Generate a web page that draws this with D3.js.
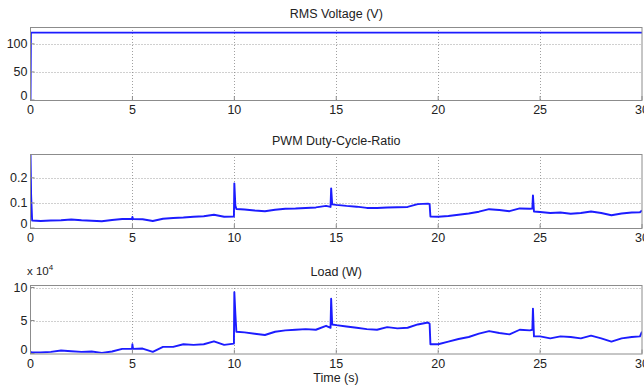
<!DOCTYPE html>
<html>
<head>
<meta charset="utf-8">
<script src="https://cdn.jsdelivr.net/npm/d3@7"></script>
<style>
    body { margin: 0; background: #fff; }
    svg { display: block; font-family: "Liberation Sans", Arial, sans-serif; }
</style>
</head>
<body>
<div id="chart"></div>
<script>
// Time samples shared by duty-cycle and load traces (s)
const time = [0, 0.03, 0.08, 0.5, 1, 1.5, 2, 2.5, 3, 3.5, 4, 4.5, 4.98, 5, 5.03, 5.5, 6, 6.5, 7, 7.5,
    8, 8.5, 9, 9.5, 9.98, 10, 10.05, 10.1, 10.5, 11, 11.5, 12, 12.5, 13, 13.5, 14, 14.5, 14.72, 14.75, 14.8,
    15, 15.5, 16, 16.5, 17, 17.5, 18, 18.5, 19, 19.5, 19.58, 19.62, 20, 20.5, 21, 21.5, 22, 22.5, 23, 23.5,
    24, 24.5, 24.62, 24.65, 24.7, 25, 25.5, 26, 26.5, 27, 27.5, 28, 28.5, 29, 29.5, 29.9, 30];

const dutyRatio = [0.30, 0.13, 0.03, 0.028, 0.03, 0.031, 0.034, 0.031, 0.029, 0.027, 0.032, 0.036, 0.036, 0.044, 0.036, 0.035, 0.028, 0.037, 0.04, 0.042,
    0.045, 0.047, 0.053, 0.045, 0.046, 0.178, 0.09, 0.076, 0.074, 0.07, 0.067, 0.073, 0.077, 0.078, 0.08, 0.082, 0.088, 0.084, 0.158, 0.094,
    0.092, 0.088, 0.085, 0.08, 0.08, 0.082, 0.083, 0.084, 0.095, 0.097, 0.095, 0.046, 0.045, 0.048, 0.053, 0.058, 0.065, 0.075, 0.072, 0.067,
    0.078, 0.077, 0.078, 0.13, 0.066, 0.064, 0.06, 0.062, 0.057, 0.06, 0.066, 0.06, 0.051, 0.058, 0.062, 0.063, 0.07];

// Load in units of 10^4 W
const loadE4 = [0.2, 0.2, 0.15, 0.15, 0.25, 0.45, 0.35, 0.25, 0.3, 0.1, 0.3, 0.7, 0.7, 1.4, 0.7, 0.75, 0.25, 1.0, 1.0, 1.4,
    1.3, 1.4, 1.85, 1.3, 1.5, 9.3, 6.0, 3.3, 3.2, 3.0, 2.8, 3.3, 3.5, 3.6, 3.7, 3.6, 4.2, 3.9, 8.3, 4.4,
    4.3, 4.1, 3.9, 3.7, 3.6, 4.0, 3.8, 3.9, 4.4, 4.7, 4.5, 1.4, 1.4, 1.8, 2.2, 2.5, 3.0, 3.4, 3.1, 2.9,
    3.6, 3.5, 3.6, 6.8, 2.6, 2.6, 2.3, 2.6, 2.5, 2.3, 2.7, 2.3, 1.8, 2.3, 2.5, 2.6, 3.3];

// RMS voltage trace
const voltTime = [0, 0.02, 30];
const voltage = [0, 120, 120];

const xTicks = [0, 5, 10, 15, 20, 25, 30];
const voltTicks = [0, 50, 100];
const dutyTicks = [0, 0.1, 0.2];
const loadTicks = [0, 5, 10];

const width = 644, height = 385;
const svg = d3.select("#chart").append("svg")
    .attr("width", width)
    .attr("height", height);

const x = d3.scaleLinear().domain([0, 30]).range([30.5, 642]);

// panel definitions: y range in pixels
const panels = [
    { title: "RMS Voltage (V)", t: voltTime, v: voltage, ticks: voltTicks, domain: [0, 130], range: [100, 27] },
    { title: "PWM Duty-Cycle-Ratio", t: time, v: dutyRatio, ticks: dutyTicks, domain: [0, 0.295], range: [228, 154] },
    { title: "Load (W)", t: time, v: loadE4, ticks: loadTicks, domain: [0, 10.38], range: [353.5, 285] }
];

panels.forEach((p, i) => {
    const y = d3.scaleLinear().domain(p.domain).range(p.range);
    const g = svg.append("g");
    const top = p.range[1], bottom = p.range[0];
    const left = x.range()[0], right = x.range()[1];

    // grid
    g.selectAll(".xg").data(xTicks.slice(1, -1)).enter().append("line")
        .attr("x1", d => Math.round(x(d)) + 0.5).attr("x2", d => Math.round(x(d)) + 0.5)
        .attr("y1", top).attr("y2", bottom)
        .attr("stroke", "#888").attr("stroke-width", 0.8).attr("stroke-dasharray", "1,2");
    g.selectAll(".yg").data(p.ticks.slice(1)).enter().append("line")
        .attr("x1", left).attr("x2", right)
        .attr("y1", d => Math.round(y(d)) + 0.5).attr("y2", d => Math.round(y(d)) + 0.5)
        .attr("stroke", "#888").attr("stroke-width", 0.8).attr("stroke-dasharray", "1,2");

    // clip
    svg.append("clipPath").attr("id", "clip" + i).append("rect")
        .attr("x", left).attr("y", top).attr("width", right - left).attr("height", bottom - top);

    // line
    const pts = p.t.map((t, k) => [t, p.v[k]]);
    g.append("path")
        .datum(pts)
        .attr("clip-path", `url(#clip${i})`)
        .attr("fill", "none")
        .attr("stroke", "#1c1cff")
        .attr("stroke-width", 1.9)
        .attr("stroke-linejoin", "round")
        .attr("d", d3.line().x(d => x(d[0])).y(d => y(d[1])));

    // box
    g.append("rect")
        .attr("x", left).attr("y", top + 0.5)
        .attr("width", right - left).attr("height", bottom - top)
        .attr("fill", "none").attr("stroke", "#8c8c8c").attr("stroke-width", 1);

    // tick marks
    g.selectAll(".xt").data(xTicks).enter().append("line")
        .attr("x1", d => x(d)).attr("x2", d => x(d))
        .attr("y1", bottom).attr("y2", bottom - 4)
        .attr("stroke", "#8c8c8c");
    g.selectAll(".yt").data(p.ticks).enter().append("line")
        .attr("x1", left).attr("x2", left + 4)
        .attr("y1", d => y(d)).attr("y2", d => y(d))
        .attr("stroke", "#8c8c8c");

    // tick labels
    g.selectAll(".xl").data(xTicks).enter().append("text")
        .attr("x", d => x(d)).attr("y", bottom + 14)
        .attr("text-anchor", "middle").attr("font-size", "12.5px").attr("fill", "#222")
        .text(d => d);
    g.selectAll(".yl").data(p.ticks).enter().append("text")
        .attr("x", left - 3).attr("y", d => y(d) + (d === 0 ? 0 : 4))
        .attr("text-anchor", "end").attr("font-size", "12.5px").attr("fill", "#222")
        .text(d => d);

    // title
    g.append("text")
        .attr("x", (left + right) / 2).attr("y", top - 9)
        .attr("text-anchor", "middle").attr("font-size", "12.5px").attr("fill", "#222")
        .text(p.title);
});

// exponent label for the load panel
const ex = svg.append("text").attr("x", 27).attr("y", 275).attr("font-size", "11.5px").attr("fill", "#222");
ex.append("tspan").text("x 10");
ex.append("tspan").attr("dy", -5).attr("font-size", "8px").text("4");

// x axis label
svg.append("text")
    .attr("x", 336).attr("y", 382)
    .attr("text-anchor", "middle").attr("font-size", "12.5px").attr("fill", "#222")
    .text("Time (s)");
</script>
</body>
</html>
